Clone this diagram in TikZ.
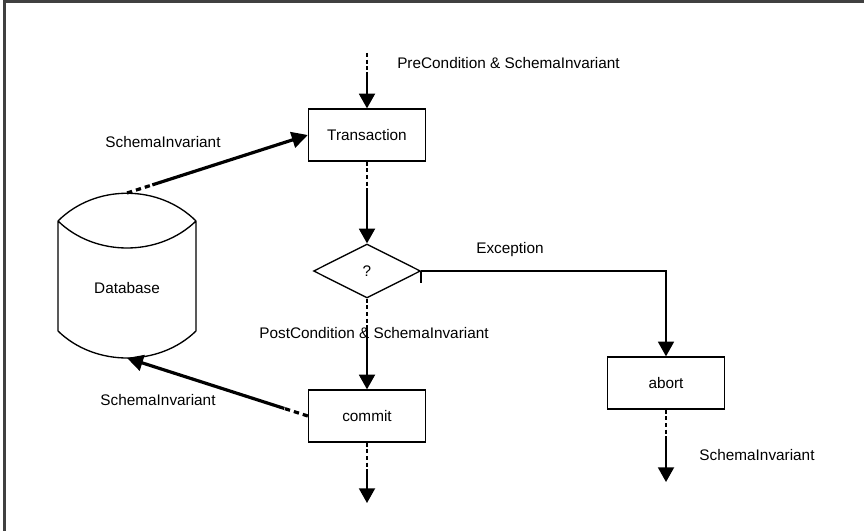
\documentclass[tikz,border=0pt]{standalone}
\usepackage{fontspec}
\setmainfont{Liberation Sans}
\usetikzlibrary{arrows.meta,shapes.geometric,calc}

\tikzset{
  procbox/.style={draw, line width=1pt, rectangle, minimum width=87.75pt, minimum height=39pt, inner sep=0pt},
  decision/.style={draw, line width=1pt, diamond, minimum width=80.25pt, minimum height=40.5pt, inner sep=0pt},
  lbl/.style={inner sep=0pt, font=\fontsize{11.5}{13}\selectfont},
  flow/.style={line width=1.4pt, -{Triangle[length=11pt,width=12pt]}},
  flowstart/.style={line width=1.4pt, dash pattern=on 3pt off 2pt},
  dbflow/.style={line width=2.4pt, -{Triangle[length=12pt,width=12pt]}},
  dbstart/.style={line width=2.4pt, dash pattern=on 4pt off 3pt},
  plain/.style={line width=1.2pt}
}

\begin{document}
\begin{tikzpicture}[x=0.75pt, y=-0.75pt, font=\fontsize{11.5}{13}\selectfont]
\useasboundingbox (0,0) rectangle (864,531);

% page frame (top and left edges)
\draw[line width=1.6pt, black!75] (4.5,531) -- (4.5,1.5) -- (864,1.5);

% database cylinder
\draw[line width=1pt]
  (58,221) .. controls (95,184) and (159,184) .. (196,221)
  (58,221) .. controls (95,257) and (159,257) .. (196,221)
  (58,221) -- (58,331)
  (196,221) -- (196,331)
  (58,331) .. controls (95,367) and (159,367) .. (196,331);
\node[lbl] (db) at (127,288) {Database};
\coordinate (dbtop) at (127,193);
\coordinate (dbbot) at (127,358);

% process steps
\node[procbox] (tr) at (367,135) {Transaction};
\node[decision] (dia) at (367,271) {?};
\node[procbox] (cm) at (367,416) {commit};
\node[procbox] (ab) at (666,383) {abort};

% free ends
\coordinate (in0) at (367,53);
\coordinate (in1) at (367,72);
\coordinate (t1) at (367,190);
\coordinate (d1) at (367,325);
\coordinate (c1) at (367,470);
\coordinate (cout) at (367,503);
\coordinate (a1) at (666,437);
\coordinate (aout) at (666,482);

% main flow
\draw[flowstart] (in0) -- (in1);
\draw[flow] (in1) -- (tr.north);
\draw[flowstart] (tr.south) -- (t1);
\draw[flow] (t1) -- (dia.north);
\draw[flowstart] (dia.south) -- (d1);
\draw[flow] (d1) -- (cm.north);
\draw[flowstart] (cm.south) -- (c1);
\draw[flow] (c1) -- (cout);

% exception branch
\draw[plain] (dia.east) -- ++(0,12);
\draw[flow, line width=1.2pt] (dia.east) -| (ab.north);
\draw[flowstart] (ab.south) -- (a1);
\draw[flow] (a1) -- (aout);

% database links
\draw[dbstart] (dbtop) -- ($(dbtop)!0.14!(tr.west)$);
\draw[dbflow] ($(dbtop)!0.14!(tr.west)$) -- (tr.west);
\draw[dbstart] (cm.west) -- ($(cm.west)!0.13!(dbbot)$);
\draw[dbflow] ($(cm.west)!0.13!(dbbot)$) -- (dbbot);

% labels
\node[lbl, anchor=west] (lpre) at (397,63) {PreCondition \& SchemaInvariant};
\node[lbl] (linv1) at (163,142) {SchemaInvariant};
\node[lbl] (lexc) at (510,250) {Exception};
\node[lbl] (lpost) at (374,333) {PostCondition \& SchemaInvariant};
\node[lbl] (linv2) at (158,400) {SchemaInvariant};
\node[lbl] (linv3) at (757,455) {SchemaInvariant};
\end{tikzpicture}
\end{document}
